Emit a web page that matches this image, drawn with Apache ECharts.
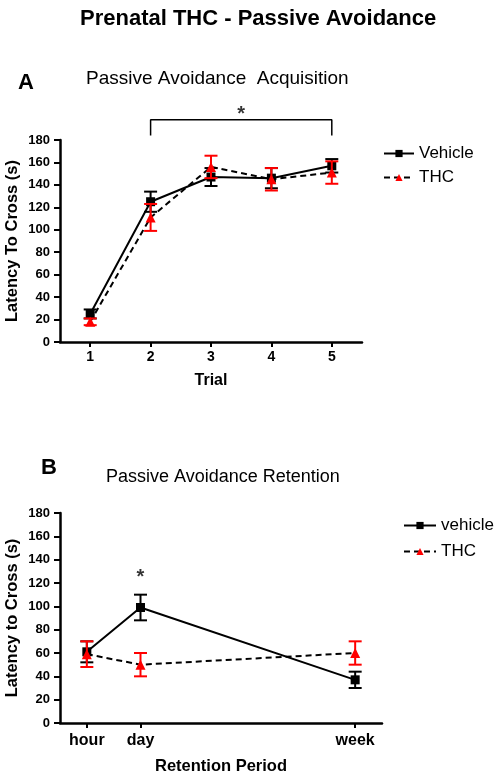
<!DOCTYPE html>
<html><head><meta charset="utf-8">
<script src="https://cdn.jsdelivr.net/npm/echarts@6/dist/echarts.min.js"></script>
<style>html,body{margin:0;padding:0;background:#fff}#c{width:497px;height:778px}</style>
</head><body><div id="c"></div>
<script>
// ---- data ----
const trials = [1, 2, 3, 4, 5];
const acqVehicle = [25, 125, 147, 146, 157];
const acqVehicleErr = [4, 9, 8, 9, 6];
const acqTHC = [18, 111, 156, 145, 151];
const acqTHCErr = [3, 12, 10, 10, 10];

const retLabels = ['hour', 'day', 'week'];
const retPos = [1, 2, 6];
const retVehicle = [61, 99, 37];
const retVehicleErr = [9, 11, 7];
const retTHC = [59, 50, 60];
const retTHCErr = [11, 10, 10];

const bracket = [[2, 184], [2, 198], [5, 198], [5, 184]];
const acqStar = [[3.5, 203]];
const retStar = [[2, 125]];

// ---- chart ----
const FONT = '"Liberation Sans", Arial, sans-serif';
const chart = echarts.init(document.getElementById('c'));

function errRender(color) {
  return function (params, api) {
    const x = api.value(0), y = api.value(1), e = api.value(2);
    const top = api.coord([x, y + e]), bot = api.coord([x, y - e]);
    const w = 6.5;
    const st = { stroke: color, lineWidth: 2 };
    return { type: 'group', children: [
      { type: 'line', shape: { x1: top[0], y1: top[1], x2: bot[0], y2: bot[1] }, style: st },
      { type: 'line', shape: { x1: top[0] - w, y1: top[1], x2: top[0] + w, y2: top[1] }, style: st },
      { type: 'line', shape: { x1: bot[0] - w, y1: bot[1], x2: bot[0] + w, y2: bot[1] }, style: st }
    ]};
  };
}

const axisCommon = {
  axisLine: { lineStyle: { color: '#000', width: 2.5 } },
  axisTick: { show: true, inside: false, length: 6, lineStyle: { color: '#000', width: 2 } },
  splitLine: { show: false },
  axisLabel: { color: '#000', fontWeight: 'bold', fontSize: 13, fontFamily: FONT }
};

function yAxis(gridIndex, name) {
  return Object.assign({}, axisCommon, {
    type: 'value', gridIndex, min: 0, max: 180, interval: 20,
    name, nameLocation: 'middle', nameGap: 39.5, nameMoveOverlap: false,
    nameTextStyle: { color: '#000', fontWeight: 'bold', fontSize: 16.5, fontFamily: FONT },
    axisLabel: Object.assign({}, axisCommon.axisLabel, { margin: 10 })
  });
}

const zipErr = (xs, ys, es) => xs.map((x, i) => [x, ys[i], es[i]]);
const zip = (xs, ys) => xs.map((x, i) => [x, ys[i]]);

const option = {
  animation: false,
  backgroundColor: '#fff',
  textStyle: { fontFamily: FONT },
  title: [
    { text: 'Prenatal THC - Passive Avoidance', left: 75, top: 3,
      textStyle: { fontSize: 22, fontWeight: 'bold', color: '#000', fontFamily: FONT } }
  ],
  graphic: [
    { type: 'text', left: 18, top: 72, style: { text: 'A', fontSize: 22, fontWeight: 'bold', fill: '#000', fontFamily: FONT } },
    { type: 'text', left: 86, top: 69, style: { text: 'Passive Avoidance  Acquisition', fontSize: 19, fill: '#000', fontFamily: FONT } },
    { type: 'text', left: 41, top: 457, style: { text: 'B', fontSize: 22, fontWeight: 'bold', fill: '#000', fontFamily: FONT } },
    { type: 'text', left: 106, top: 468, style: { text: 'Passive Avoidance Retention', fontSize: 18, fill: '#000', fontFamily: FONT } }
  ],
  legend: [
    { data: ['Vehicle', 'THC'], orient: 'vertical', left: 378, top: 140, itemWidth: 30, itemHeight: 9, itemGap: 7,
      textStyle: { fontSize: 17, color: '#000', fontFamily: FONT } },
    { data: ['vehicle', 'THC '], orient: 'vertical', left: 398, top: 512, itemWidth: 32, itemHeight: 9, itemGap: 9,
      textStyle: { fontSize: 17, color: '#000', fontFamily: FONT } }
  ],
  grid: [
    { left: 60, top: 140, width: 302, height: 202, containLabel: false, outerBoundsMode: 'none' },
    { left: 60, top: 513, width: 322, height: 210, containLabel: false, outerBoundsMode: 'none' }
  ],
  xAxis: [
    Object.assign({}, axisCommon, {
      type: 'value', gridIndex: 0, min: 0.5, max: 5.5,
      axisTick: Object.assign({}, axisCommon.axisTick, { customValues: trials, length: 5 }),
      axisLabel: Object.assign({}, axisCommon.axisLabel, { customValues: trials, margin: 8, fontSize: 14 }),
      name: 'Trial', nameLocation: 'middle', nameGap: 31, nameMoveOverlap: false,
      nameTextStyle: { color: '#000', fontWeight: 'bold', fontSize: 16, fontFamily: FONT }
    }),
    Object.assign({}, axisCommon, {
      type: 'value', gridIndex: 1, min: 0.5, max: 6.5,
      axisTick: Object.assign({}, axisCommon.axisTick, { customValues: retPos, length: 5 }),
      axisLabel: Object.assign({}, axisCommon.axisLabel, { customValues: retPos, margin: 10, fontSize: 16,
        formatter: v => retLabels[retPos.indexOf(v)] || '' }),
      name: 'Retention Period', nameLocation: 'middle', nameGap: 35, nameMoveOverlap: false,
      nameTextStyle: { color: '#000', fontWeight: 'bold', fontSize: 16.5, fontFamily: FONT }
    })
  ],
  yAxis: [ yAxis(0, 'Latency To Cross (s)'), yAxis(1, 'Latency to Cross (s)') ],
  series: [
    // panel A
    { type: 'line', name: 'Vehicle', xAxisIndex: 0, yAxisIndex: 0, data: zip(trials, acqVehicle),
      symbol: 'rect', symbolSize: 9, itemStyle: { color: '#000' }, lineStyle: { color: '#000', width: 2 }, z: 3 },
    { type: 'line', name: 'THC', xAxisIndex: 0, yAxisIndex: 0, data: zip(trials, acqTHC),
      symbol: 'triangle', symbolSize: 10, itemStyle: { color: '#ff0000' }, lineStyle: { color: '#000', width: 2, type: [6, 4] }, z: 3 },
    { type: 'custom', name: 'errV', xAxisIndex: 0, yAxisIndex: 0, renderItem: errRender('#000'), data: zipErr(trials, acqVehicle, acqVehicleErr), z: 2 },
    { type: 'custom', name: 'errT', xAxisIndex: 0, yAxisIndex: 0, renderItem: errRender('#ff0000'), data: zipErr(trials, acqTHC, acqTHCErr), z: 4 },
    { type: 'line', name: 'bracket', xAxisIndex: 0, yAxisIndex: 0, data: bracket, symbol: 'none', clip: false,
      lineStyle: { color: '#000', width: 1.5 }, silent: true },
    { type: 'scatter', name: 'starA', xAxisIndex: 0, yAxisIndex: 0, data: acqStar, symbolSize: 1, clip: false,
      itemStyle: { color: 'rgba(0,0,0,0)' },
      label: { show: true, position: 'inside', formatter: '*', fontSize: 20, fontWeight: 'bold', color: '#000', fontFamily: FONT } },
    // panel B
    { type: 'line', name: 'vehicle', xAxisIndex: 1, yAxisIndex: 1, data: zip(retPos, retVehicle),
      symbol: 'rect', symbolSize: 9, itemStyle: { color: '#000' }, lineStyle: { color: '#000', width: 2 }, z: 3 },
    { type: 'line', name: 'THC ', xAxisIndex: 1, yAxisIndex: 1, data: zip(retPos, retTHC),
      symbol: 'triangle', symbolSize: 10, itemStyle: { color: '#ff0000' }, lineStyle: { color: '#000', width: 2, type: [6, 4] }, z: 3 },
    { type: 'custom', name: 'errV2', xAxisIndex: 1, yAxisIndex: 1, renderItem: errRender('#000'), data: zipErr(retPos, retVehicle, retVehicleErr), z: 2 },
    { type: 'custom', name: 'errT2', xAxisIndex: 1, yAxisIndex: 1, renderItem: errRender('#ff0000'), data: zipErr(retPos, retTHC, retTHCErr), z: 4 },
    { type: 'scatter', name: 'starB', xAxisIndex: 1, yAxisIndex: 1, data: retStar, symbolSize: 1, clip: false,
      itemStyle: { color: 'rgba(0,0,0,0)' },
      label: { show: true, position: 'inside', formatter: '*', fontSize: 20, fontWeight: 'bold', color: '#000', fontFamily: FONT } }
  ]
};
chart.setOption(option);
</script>
</body></html>
